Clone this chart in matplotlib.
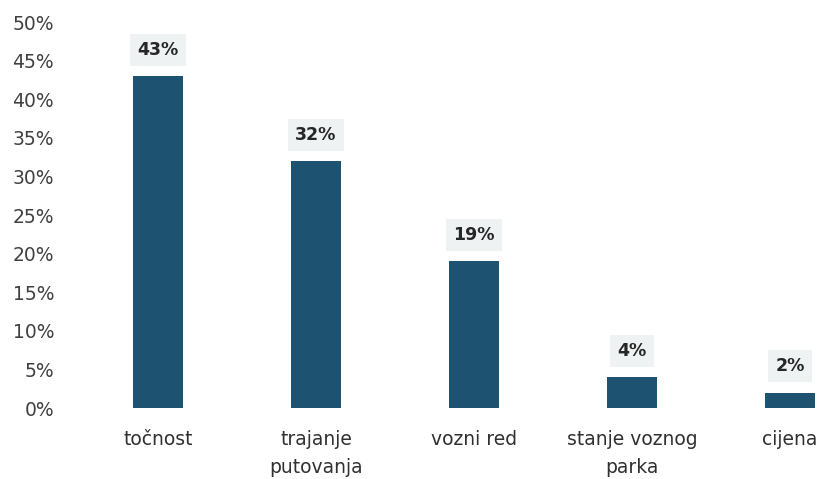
import matplotlib
matplotlib.use("Agg")
import matplotlib.pyplot as plt

categories = ["točnost", "trajanje\nputovanja", "vozni red", "stanje voznog\nparka", "cijena"]
values = [43, 32, 19, 4, 2]
yticks = [0, 5, 10, 15, 20, 25, 30, 35, 40, 45, 50]

plt.rcParams['font.family'] = ['DejaVu Sans']

fig = plt.figure(figsize=(8.24, 4.79), dpi=100)
ax = fig.add_axes([0.0959, 0.148, 0.904, 0.806])

x = range(len(categories))
ax.bar(x, values, width=0.32, color='#1d5270')

for i, v in zip(x, values):
    ax.annotate(f"{v}%", (i, v), xytext=(0, 19), textcoords='offset points',
                ha='center', va='center', fontsize=12.5, fontweight='bold', color='#262626',
                bbox=dict(boxstyle='square,pad=0.4', facecolor='#eef2f3', edgecolor='none'))

ax.set_xlim(-0.5, 4.215)
ax.set_ylim(0, 50)
ax.set_yticks(yticks)
ax.set_yticklabels([f"{t}%" for t in yticks], fontsize=13.5, color='#404040')
ax.set_xticks(list(x))
ax.set_xticklabels(categories, fontsize=13.5, color='#303030', linespacing=1.6)
ax.tick_params(axis='both', length=0)
ax.tick_params(axis='x', pad=16)
ax.tick_params(axis='y', pad=18)
for s in ax.spines.values():
    s.set_visible(False)

fig.savefig("out.png", dpi=100)
